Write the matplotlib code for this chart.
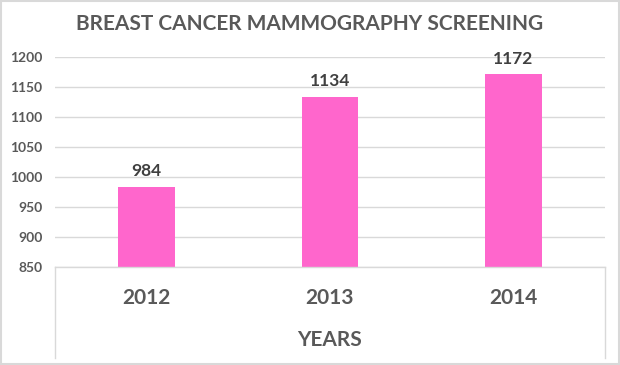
import matplotlib.pyplot as plt
import matplotlib.patches as patches
import numpy as np

plt.rcParams["font.family"] = ["Lato", "DejaVu Sans"]

years = ["2012", "2013", "2014"]
screenings = [984, 1134, 1172]
y_ticks = [850, 900, 950, 1000, 1050, 1100, 1150, 1200]

grey = "#595959"
pink = "#FF66CC"
grid = "#D9D9D9"

fig = plt.figure(figsize=(6.2, 3.65), dpi=100)
ax = fig.add_axes([0.0887, 0.2685, 0.887, 0.5753])

x = np.arange(len(years))
bars = ax.bar(x, screenings, width=0.31, color=pink, zorder=2)
for xi, v in zip(x, screenings):
    ax.text(xi, v + 12, str(v), ha="center", va="bottom", fontsize=12.5,
            fontweight="bold", color="#404040")

ax.set_xlim(-0.5, len(years) - 0.5)
ax.set_ylim(850, 1200)
ax.set_yticks(y_ticks)
ax.set_yticklabels([str(t) for t in y_ticks], fontsize=10, fontweight="bold", color=grey)
ax.tick_params(axis="y", length=0, pad=9)
ax.set_xticks([])
ax.grid(axis="y", color=grid, lw=1, zorder=0)
for s in ax.spines.values():
    s.set_visible(False)

# category area below the axis
box_h = 0.433
ax.plot([0, 1], [0, 0], transform=ax.transAxes, color=grid, lw=1, clip_on=False)
ax.plot([0, 0], [0, -box_h], transform=ax.transAxes, color=grid, lw=1, clip_on=False)
ax.plot([1, 1], [0, -box_h], transform=ax.transAxes, color=grid, lw=1, clip_on=False)
for xi, yr in zip(x, years):
    ax.text((xi + 0.5) / len(years), -0.148, yr, transform=ax.transAxes, ha="center",
            va="center", fontsize=15, fontweight="bold", color=grey)
ax.text(0.5, -0.348, "YEARS", transform=ax.transAxes, ha="center", va="center",
        fontsize=15, fontweight="bold", color=grey)

fig.text(0.5, 0.935, "BREAST CANCER MAMMOGRAPHY SCREENING", ha="center", va="center",
         fontsize=15, fontweight="bold", color=grey)

fig.patches.append(patches.Rectangle((0.002, 0.003), 0.996, 0.994, transform=fig.transFigure,
                                     fill=False, edgecolor=grid, lw=1.5))

plt.savefig("out.png", dpi=100)
